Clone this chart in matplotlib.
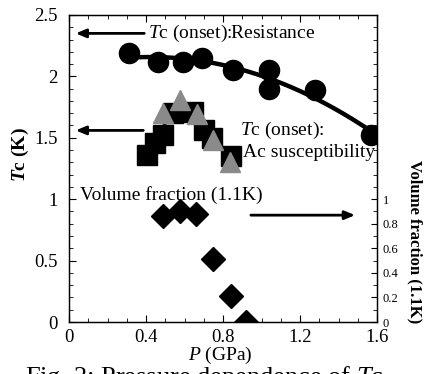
import numpy as np
import matplotlib
matplotlib.use("Agg")
import matplotlib.pyplot as plt
from matplotlib.ticker import MultipleLocator, FixedLocator, FuncFormatter

plt.rcParams['font.family'] = ['Liberation Serif', 'DejaVu Serif']
plt.rcParams['mathtext.fontset'] = 'custom'
plt.rcParams['mathtext.rm'] = 'Liberation Serif'
plt.rcParams['mathtext.it'] = 'Liberation Serif:italic'
plt.rcParams['mathtext.bf'] = 'Liberation Serif:bold'
plt.rcParams['mathtext.bfit'] = 'Liberation Serif:italic:bold'

# Tc (onset) from resistance
p_res = [0.31, 0.46, 0.59, 0.69, 0.85, 1.04, 1.04, 1.28, 1.57]
tc_res = [2.19, 2.12, 2.12, 2.15, 2.05, 2.05, 1.90, 1.89, 1.52]

# Tc (onset) from AC susceptibility (squares)
p_ac_sq = [0.405, 0.447, 0.49, 0.54, 0.645, 0.70, 0.74, 0.84]
tc_ac_sq = [1.36, 1.46, 1.52, 1.70, 1.71, 1.56, 1.50, 1.35]

# Tc (onset) from AC susceptibility (triangles)
p_ac_tri = [0.49, 0.577, 0.665, 0.75, 0.837]
tc_ac_tri = [1.70, 1.81, 1.69, 1.48, 1.30]

# Volume fraction at 1.1 K
p_vol = [0.49, 0.577, 0.66, 0.75, 0.84, 0.92]
vol_frac = [0.86, 0.90, 0.88, 0.51, 0.21, 0.0]

fig = plt.figure(figsize=(4.29, 3.74), dpi=100)
ax = fig.add_axes([0.161, 0.139, 0.718, 0.821])

# fit curves
c_res = np.polyfit(p_res, tc_res, 2)
xx = np.linspace(min(p_res), max(p_res), 200)
ax.plot(xx, np.polyval(c_res, xx), color='black', lw=3.2, zorder=2)
c_ac = np.polyfit(p_ac_sq + p_ac_tri, tc_ac_sq + tc_ac_tri, 2)
xa = np.linspace(0.42, 0.80, 100)
ax.plot(xa, np.polyval(c_ac, xa), color='black', lw=2, zorder=2)

ax.plot(p_res, tc_res, 'o', color='black', ms=14.5, zorder=3)
ax.plot(p_ac_sq, tc_ac_sq, 's', color='black', ms=14, zorder=3)
ax.plot(p_ac_tri, tc_ac_tri, '^', color='#8a8a8a', mec='#8a8a8a', ms=15, zorder=4)

ax2 = ax.twinx()
ax2.set_position([0.161, 0.139, 0.718, 0.821])
ax2.plot(p_vol, vol_frac, 'D', color='black', ms=12.5, zorder=3)

ax.set_xlim(0, 1.6)
ax.set_ylim(0, 2.5)
ax2.set_ylim(0, 2.5)

fmt = FuncFormatter(lambda v, p: ('%g' % round(v, 2)))
ax.xaxis.set_major_locator(MultipleLocator(0.4))
ax.xaxis.set_minor_locator(MultipleLocator(0.1))
ax.yaxis.set_major_locator(MultipleLocator(0.5))
ax.yaxis.set_minor_locator(MultipleLocator(0.1))
ax.xaxis.set_major_formatter(fmt)
ax.yaxis.set_major_formatter(fmt)
ax2.yaxis.set_major_locator(FixedLocator([0, 0.2, 0.4, 0.6, 0.8, 1.0]))
ax2.yaxis.set_minor_locator(MultipleLocator(0.1))
ax2.yaxis.set_major_formatter(fmt)

ax.tick_params(axis='both', which='both', direction='in', top=True, right=False, labelsize=13.5)
ax.tick_params(axis='x', which='major', length=5, width=0.8, pad=5)
ax.tick_params(axis='x', which='minor', length=3, width=0.6)
ax.tick_params(axis='y', which='major', length=5, width=0.8, pad=8)
ax.tick_params(axis='y', which='minor', length=3, width=0.6)
ax2.tick_params(axis='y', which='major', direction='in', length=4, width=0.8, pad=4, labelsize=9)
ax2.tick_params(axis='y', which='minor', direction='in', length=3, width=0.6)
for a in (ax, ax2):
    for s in a.spines.values():
        s.set_linewidth(0.9)

# annotations
arrow_kw = dict(arrowstyle='-|>,head_length=0.6,head_width=0.25', color='black', lw=2)
ax.text(0.41, 2.35, r'$T$c (onset):Resistance', fontsize=14, va='center', ha='left')
ax.annotate('', xy=(0.02, 2.35), xytext=(0.405, 2.35), arrowprops=arrow_kw)
ax.text(0.89, 1.56, r'$T$c (onset):', fontsize=14, va='center', ha='left')
ax.text(0.905, 1.38, 'Ac susceptibility', fontsize=14, va='center', ha='left')
ax.annotate('', xy=(0.02, 1.56), xytext=(0.40, 1.56), arrowprops=arrow_kw)
ax.text(0.057, 1.03, 'Volume fraction (1.1K)', fontsize=14, va='center', ha='left')
ax.annotate('', xy=(1.50, 0.87), xytext=(0.93, 0.87), arrowprops=arrow_kw)

# axis labels
fig.text(20/429, 1 - 155/374, r'$\mathbfit{T}$c (K)', rotation=90, fontsize=14,
         fontweight='bold', ha='center', va='center')
fig.text(415/429, 1 - 242/374, 'Volume fraction (1.1K)', rotation=-90, fontsize=12,
         fontweight='bold', ha='center', va='center')
fig.text(220/429, 1 - 355/374, r'$P$ (GPa)', fontsize=14, ha='center', va='center')

# caption (cropped at bottom)
fig.text(25/429, 1 - 364/374, r'Fig. 2: Pressure dependence of $T$c', fontsize=19,
         ha='left', va='top')

fig.savefig('out.png', dpi=100)
